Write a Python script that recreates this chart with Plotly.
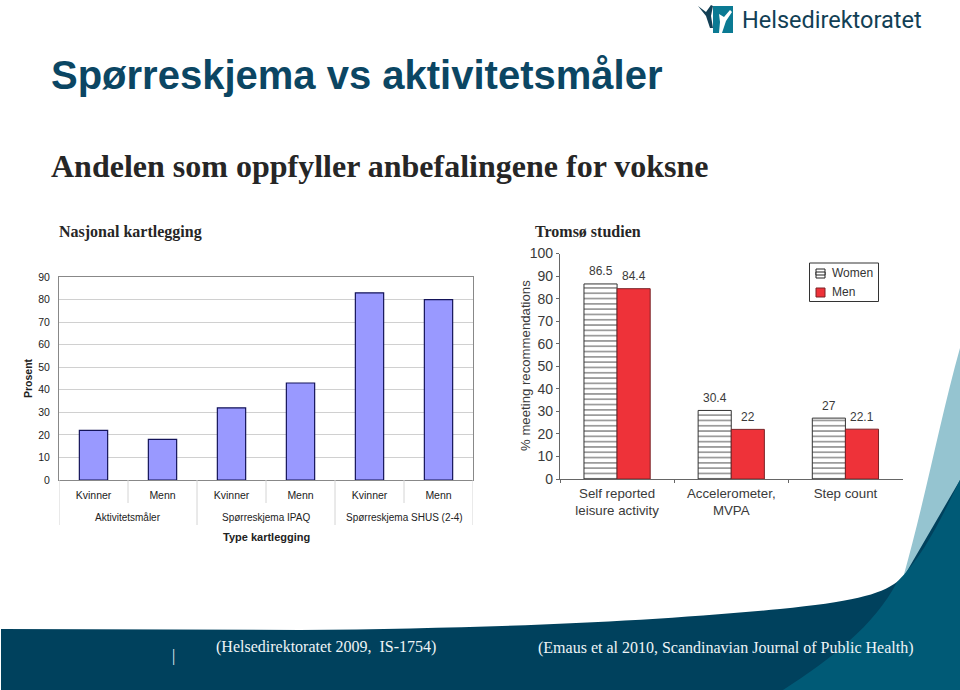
import plotly.graph_objects as go

W, H = 960, 690

# Left chart data
left_groups = ["Aktivitetsmåler", "Spørreskjema IPAQ", "Spørreskjema SHUS (2-4)"]
left_group_pos = [0.5, 2.5, 4.5]
left_pos = [0, 1, 2, 3, 4, 5]
left_cats = ["Kvinner", "Menn", "Kvinner", "Menn", "Kvinner", "Menn"]
left_values = [22, 18, 32, 43, 83, 80]

# Right chart data
right_cats = ["Self reported<br>leisure activity", "Accelerometer,<br>MVPA", "Step count"]
women = [86.5, 30.4, 27]
men = [84.4, 22, 22.1]
women_labels = ["86.5", "30.4", "27"]
men_labels = ["84.4", "22", "22.1"]


def fx(p):
    return p / W


def fy(p):
    return 1 - p / H


def path(cmds):
    out = []
    for c in cmds:
        if isinstance(c, str):
            out.append(c)
        else:
            out.append(f"{fx(c[0]):.5f},{fy(c[1]):.5f}")
    return " ".join(out)


fig = go.Figure()

fig.add_trace(go.Bar(
    x=left_pos, y=left_values, xaxis="x", yaxis="y", showlegend=False, width=0.41,
    marker=dict(color="#9999ff", line=dict(color="#14145a", width=1.2)),
    hoverinfo="y",
))
fig.add_trace(go.Bar(
    x=right_cats, y=women, xaxis="x2", yaxis="y2", name="Women", showlegend=False,
    marker=dict(color="white", line=dict(color="#333333", width=1),
                pattern=dict(shape="-", size=5.3, solidity=0.3, fgcolor="#222222", bgcolor="white")),
))
fig.add_trace(go.Bar(
    x=right_cats, y=men, xaxis="x2", yaxis="y2", name="Men", showlegend=False,
    marker=dict(color="#ee3239", line=dict(color="#7a2226", width=1)),
))


def paper_path(cmds, fill):
    return dict(type="path", xref="paper", yref="paper", line_width=0, fillcolor=fill, layer="below",
                path=path(cmds))


def paper_rect(x0, y0, x1, y1, fill, line, width=1):
    return dict(type="rect", xref="paper", yref="paper", x0=fx(x0), x1=fx(x1), y0=fy(y0), y1=fy(y1),
                fillcolor=fill, line=dict(color=line, width=width))


shapes = [
    paper_path(["M", (960, 348), "L", (960, 500), "L", (903, 578), "C", (925, 500), (940, 420), (960, 348), "Z"],
               "#95c4d0"),
    paper_path(["M", (1, 629), "L", (300, 630), "C", (500, 628), (640, 622), (780, 609),
                "C", (850, 602), (880, 595), (897, 582), "L", (903, 578), "L", (960, 480),
                "L", (960, 690), "L", (1, 690), "Z"], "#00415d"),
    paper_path(["M", (897, 582), "C", (925, 555), (945, 510), (960, 480), "L", (960, 690), "L", (783, 690),
                "C", (830, 660), (875, 625), (897, 582), "Z"], "#005a76"),
    # logo
    paper_path(["M", (713, 6), "L", (733, 6), "L", (733, 33), "L", (713, 33), "Z"], "#0b7a93"),
    paper_path(["M", (719, 14), "L", (724, 17), "L", (730, 10), "L", (732, 12), "L", (726, 21), "L", (722, 33),
                "L", (719, 33), "L", (720, 22), "Z"], "#ffffff"),
    paper_path(["M", (698, 6), "L", (706, 12), "L", (711, 5), "L", (713, 6), "L", (711, 16), "L", (713, 28),
                "L", (710, 28), "L", (706, 16), "Z"], "#123f55"),
    # hand-placed legend box for the right chart
    paper_rect(809.5, 263, 878.5, 301.5, "white", "#333333", 1),
    paper_rect(816, 269, 825, 278, "white", "#222222", 1),
    paper_rect(816, 272, 825, 275, "white", "#222222", 1),
    paper_rect(816, 288, 825, 297, "#ee3239", "#7a2226", 1),
]

# dividers below the left chart's axis
for d, bottom in [(0.5, 503), (1.5, 525), (2.5, 503), (3.5, 525), (4.5, 503)]:
    shapes.append(dict(type="line", xref="x", yref="paper", x0=d, x1=d, y0=fy(480), y1=fy(bottom),
                       line=dict(color="#d4d4d4", width=1)))
for d in (-0.5, 5.5):
    shapes.append(dict(type="line", xref="x", yref="paper", x0=d, x1=d, y0=fy(480), y1=fy(525),
                       line=dict(color="#d4d4d4", width=1)))

annots = []


def txt(x, y, s, family, size, color, bold=False, anchor="left", **kw):
    annots.append(dict(xref="paper", yref="paper", x=fx(x), y=fy(y), text=f"<b>{s}</b>" if bold else s,
                       showarrow=False, xanchor=anchor, yanchor="middle", align=anchor,
                       font=dict(family=family, size=size, color=color), **kw))


txt(49, 75, "Spørreskjema vs aktivitetsmåler", "Liberation Sans", 40, "#0b4663", True)
txt(49, 166, "Andelen som oppfyller anbefalingene for voksne", "Liberation Serif", 32, "#262626", True)
txt(57, 232, "Nasjonal kartlegging", "Liberation Serif", 16, "#262626", True)
txt(533, 231, "Tromsø studien", "Liberation Serif", 16, "#262626", True)
txt(214, 647, "(Helsedirektoratet 2009,  IS-1754)", "Liberation Serif", 16, "#eef4f6")
txt(536, 648, "(Emaus et al 2010, Scandinavian Journal of Public Health)", "Liberation Serif", 16, "#eef4f6")
txt(170, 656, "|", "Liberation Serif", 16, "#eef4f6")
txt(740, 20, "Helsedirektoratet", "Roboto", 23.5, "#123f55")
txt(266, 537, "Type kartlegging", "Liberation Sans", 11, "#222222", True, anchor="center")
txt(525, 366, "% meeting recommendations", "Liberation Sans", 13.2, "#3a3a3a", anchor="center", textangle=-90)
txt(830, 273, "Women", "Liberation Sans", 12, "#333333")
txt(830, 292, "Men", "Liberation Sans", 12, "#333333")

for p, g in zip(left_group_pos, left_groups):
    annots.append(dict(xref="x", yref="paper", x=p, y=fy(517), text=g, showarrow=False, yanchor="middle",
                       font=dict(family="Liberation Sans", size=10, color="#222222")))

for vals, labels, shift in [(women, women_labels, -16.5), (men, men_labels, 16.5)]:
    for c, v, lab in zip(right_cats, vals, labels):
        annots.append(dict(xref="x2", yref="y2", x=c, y=v, text=lab, showarrow=False, xshift=shift, yshift=12.5,
                           yanchor="middle", font=dict(family="Liberation Sans", size=12, color="#3a3a3a")))

fig.update_layout(
    width=W, height=H, autosize=False,
    margin=dict(l=0, r=0, t=0, b=0, autoexpand=False),
    paper_bgcolor="white", plot_bgcolor="rgba(0,0,0,0)",
    barmode="group", bargap=0.42, bargroupgap=0,
    shapes=shapes, annotations=annots,
    showlegend=False,
    xaxis=dict(domain=[fx(59), fx(473)], anchor="y", range=[-0.5, 5.5],
               tickmode="array", tickvals=left_pos, ticktext=left_cats,
               tickfont=dict(family="Liberation Sans", size=10.5, color="#222222"),
               showline=True, linecolor="#888888", linewidth=1, mirror=True,
               ticks="outside", ticklen=5, tickcolor="rgba(0,0,0,0)", showgrid=False, zeroline=False),
    yaxis=dict(domain=[fy(480), fy(277)], anchor="x", range=[0, 90], tick0=0, dtick=10,
               tickfont=dict(family="Liberation Sans", size=10.5, color="#222222"),
               showgrid=True, gridcolor="#d0d0d0", gridwidth=1, zeroline=False,
               showline=True, linecolor="#888888", linewidth=1, mirror=True,
               ticks="outside", ticklen=6, tickcolor="rgba(0,0,0,0)",
               title=dict(text="<b>Prosent</b>", standoff=3,
                          font=dict(family="Liberation Sans", size=10.5, color="#222222"))),
    xaxis2=dict(domain=[fx(560), fx(902.5)], anchor="y2", type="category",
                tickfont=dict(family="Liberation Sans", size=13.3, color="#3a3a3a"),
                showline=True, linecolor="#666666", linewidth=1.2, ticks="outside", ticklen=3,
                tickcolor="#666666", tickson="boundaries", showgrid=False, ticklabelstandoff=2),
    yaxis2=dict(domain=[fy(479), fy(253.5)], anchor="x2", range=[0, 100], tick0=0, dtick=10,
                tickfont=dict(family="Liberation Sans", size=14, color="#3a3a3a"),
                showgrid=False, zeroline=False, showline=True, linecolor="#666666", linewidth=1.2,
                ticks="outside", ticklen=3, tickcolor="#666666"),
)

fig.write_html("out.html", config={"displayModeBar": False}, post_script="document.body.style.margin='0';")
